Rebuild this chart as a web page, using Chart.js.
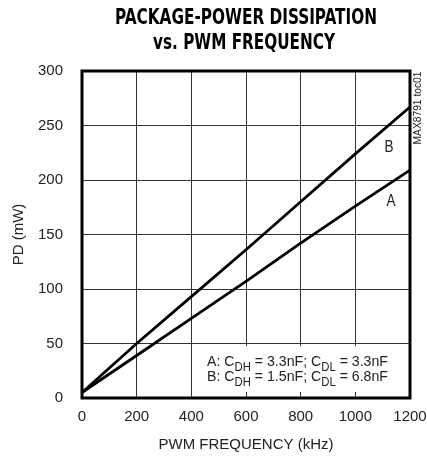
<!DOCTYPE html>
<html lang="en">
<head>
<meta charset="UTF-8">
<title>Package-Power Dissipation vs. PWM Frequency</title>
<script src="https://cdn.jsdelivr.net/npm/chart.js"></script>
<style>
  body { margin: 0; background: #fff; }
  #wrap { width: 427px; height: 458px; position: relative; }
</style>
</head>
<body>
<div id="wrap"><canvas id="chart"></canvas></div>
<script>
// data
const freqs = [0, 200, 400, 600, 800, 1000, 1200];      // kHz
const seriesA = [5, 39, 73, 107, 142, 176, 209];       // mW, CDH = 3.3nF; CDL = 3.3nF
const seriesB = [5, 50, 93, 136, 180, 224, 267];       // mW, CDH = 1.5nF; CDL = 6.8nF
const seriesNames = ['A', 'B'];
const legendLines = [
  ['A: C', 'DH', ' = 3.3nF; C', 'DL', ' = 3.3nF'],
  ['B: C', 'DH', ' = 1.5nF; C', 'DL', ' = 6.8nF']
];
const titleLines = ['PACKAGE-POWER DISSIPATION', 'vs. PWM FREQUENCY'];

const TITLE_FONT = '"Liberation Sans Narrow", "DejaVu Sans Condensed", sans-serif';
const FONT = '"Liberation Sans", Arial, sans-serif';

const toPoints = (ys) => freqs.map((f, i) => ({ x: f, y: ys[i] }));

// extra drawing: title, frame, white legend box, curve labels, side note
const decorations = {
  id: 'decorations',
  beforeDatasetsDraw(chart) {
    const ctx = chart.ctx;
    ctx.save();
    ctx.fillStyle = '#fff';
    ctx.fillRect(203, 346, 205, 46);
    ctx.restore();
  },
  afterDraw(chart) {
    const ctx = chart.ctx;
    const a = chart.chartArea;
    ctx.save();

    // frame
    ctx.strokeStyle = '#000';
    ctx.lineWidth = 3;
    ctx.strokeRect(a.left, a.top, a.right - a.left, a.bottom - a.top);

    // title
    ctx.fillStyle = '#000';
    ctx.textAlign = 'center';
    ctx.textBaseline = 'middle';
    ctx.font = 'bold 22px ' + TITLE_FONT;
    ctx.fillText(titleLines[0], 246, 18, 262);
    ctx.fillText(titleLines[1], 244, 43, 182);

    // curve labels
    ctx.font = '17px ' + FONT;
    ctx.fillStyle = '#222';
    ctx.fillText(seriesNames[1], 389, 147, 9);
    ctx.fillText(seriesNames[0], 391, 201, 9);

    // legend text with subscripts
    const rows = [361, 376];
    legendLines.forEach((parts, r) => {
      let total = 0;
      const widths = parts.map((p, i) => {
        ctx.font = (i % 2 ? '12px ' : '15px ') + FONT;
        const w = ctx.measureText(p).width;
        total += w;
        return w;
      });
      const k = 181 / total;
      ctx.save();
      ctx.translate(207, rows[r]);
      ctx.scale(k, 1);
      ctx.textAlign = 'left';
      ctx.textBaseline = 'alphabetic';
      let x = 0;
      parts.forEach((p, i) => {
        ctx.font = (i % 2 ? '12px ' : '15px ') + FONT;
        ctx.fillText(p, x, i % 2 ? 10 : 5);
        x += widths[i];
      });
      ctx.restore();
    });

    // side note
    ctx.translate(418, 108);
    ctx.rotate(-Math.PI / 2);
    ctx.font = '11px ' + FONT;
    ctx.textAlign = 'center';
    ctx.textBaseline = 'middle';
    ctx.fillText('MAX8791 toc01', 0, 0, 73);
    ctx.restore();
  }
};

new Chart(document.getElementById('chart'), {
  type: 'line',
  data: {
    datasets: [
      { label: seriesNames[0], data: toPoints(seriesA), borderColor: '#000', borderWidth: 2.8, pointRadius: 0, tension: 0 },
      { label: seriesNames[1], data: toPoints(seriesB), borderColor: '#000', borderWidth: 2.8, pointRadius: 0, tension: 0 }
    ]
  },
  options: {
    responsive: true,
    maintainAspectRatio: false,
    animation: false,
    layout: { padding: { top: 71, right: 17, left: 0, bottom: 0 } },
    plugins: {
      legend: { display: false },
      tooltip: { enabled: false },
      title: { display: false }
    },
    scales: {
      x: {
        type: 'linear',
        min: 0,
        max: 1200,
        ticks: { stepSize: 200, padding: 10, color: '#222', font: { family: FONT, size: 15 }, callback: (v) => String(v) },
        grid: { color: '#333', lineWidth: 1, drawTicks: false },
        border: { display: false },
        title: { display: true, text: 'PWM FREQUENCY (kHz)', color: '#222', padding: 4, font: { family: FONT, size: 15 } },
        afterFit(scale) {
          scale.height = 60;
          scale.paddingLeft = 0;
          scale.paddingRight = 0;
        }
      },
      y: {
        min: 0,
        max: 300,
        ticks: { stepSize: 50, padding: 19, color: '#222', font: { family: FONT, size: 15 }, callback: (v) => String(v) },
        grid: { color: '#333', lineWidth: 1, drawTicks: false },
        border: { display: false },
        title: { display: true, text: 'PD (mW)', color: '#222', padding: 10, font: { family: FONT, size: 15 } },
        afterFit(scale) {
          scale.width = 82;
          scale.paddingTop = 0;
          scale.paddingBottom = 0;
        }
      }
    }
  },
  plugins: [decorations]
});
</script>
</body>
</html>
